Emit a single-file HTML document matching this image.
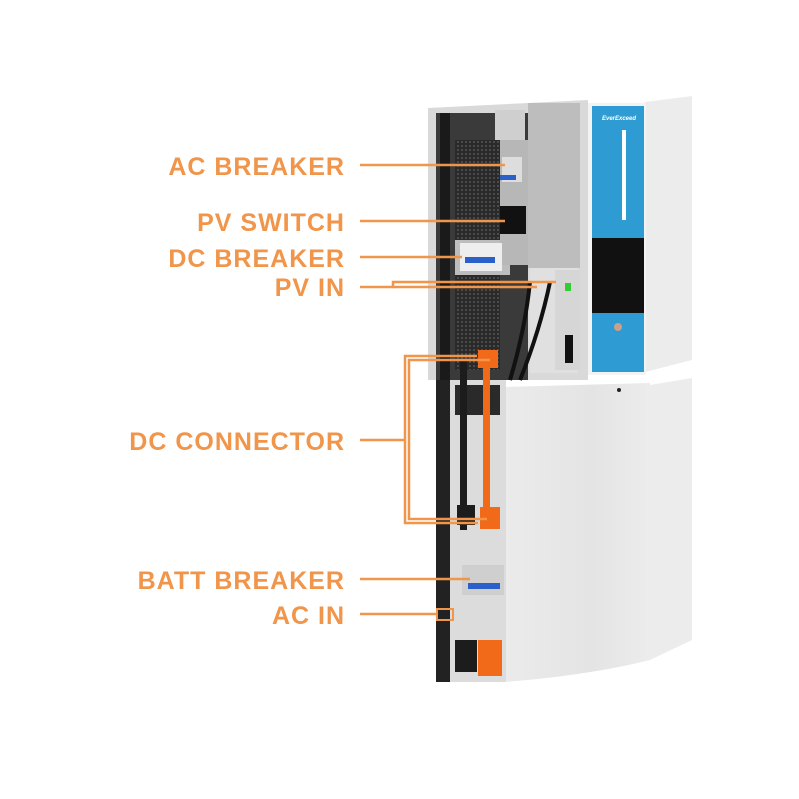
<!DOCTYPE html>
<html><head><style>html,body{margin:0;padding:0;background:#fff}svg{display:block}</style></head>
<body>
<svg width="799" height="799" viewBox="0 0 799 799" xmlns="http://www.w3.org/2000/svg">
<defs>
<linearGradient id="front" x1="0" x2="1"><stop offset="0" stop-color="#ebebeb"/><stop offset="0.6" stop-color="#e4e4e4"/><stop offset="1" stop-color="#ececec"/></linearGradient>
<pattern id="vent" width="4" height="4" patternUnits="userSpaceOnUse"><rect width="4" height="4" fill="#2a2a2a"/><circle cx="2" cy="2" r="1" fill="#555"/></pattern>
</defs>
<polygon points="645,102 692,96 692,360 645,372" fill="#ececec"/>
<rect x="588" y="103" width="58" height="272" fill="#f3f3f3"/>
<rect x="592" y="106" width="52" height="266" fill="#2f9bd3"/>
<rect x="622" y="130" width="4" height="90" fill="#fff"/>
<rect x="592" y="238" width="52" height="75" fill="#111"/>
<circle cx="618" cy="327" r="4" fill="#c9a08a"/>
<text x="602" y="120" font-family="Liberation Sans,sans-serif" font-size="6" font-weight="bold" fill="#fff" font-style="italic">EverExceed</text>
<polygon points="428,108 588,100 588,380 428,380" fill="#d9d9d9"/>
<rect x="436" y="113" width="92" height="267" fill="#3a3a3a"/>
<rect x="440" y="113" width="10" height="267" fill="#1a1a1a"/>
<rect x="455" y="140" width="45" height="100" fill="url(#vent)"/>
<rect x="455" y="275" width="45" height="95" fill="url(#vent)"/>
<rect x="455" y="240" width="55" height="35" fill="#bdbdbd"/>
<rect x="495" y="110" width="30" height="30" fill="#cfcfcf"/>
<rect x="500" y="140" width="30" height="125" fill="#b7b7b7"/>
<rect x="528" y="103" width="52" height="165" fill="#bdbdbd"/>
<rect x="530" y="268" width="48" height="105" fill="#e0e0e0"/>
<rect x="555" y="270" width="25" height="100" fill="#d6d6d6"/>
<rect x="502" y="157" width="20" height="25" fill="#ddd"/>
<rect x="500" y="175" width="16" height="5" fill="#2b5fc9"/>
<rect x="500" y="206" width="26" height="28" fill="#111"/>
<rect x="460" y="243" width="42" height="28" fill="#eee"/>
<rect x="465" y="257" width="30" height="6" fill="#2b5fc9"/>
<rect x="565" y="283" width="6" height="8" fill="#3c3"/>
<rect x="565" y="335" width="8" height="28" fill="#111"/>
<path d="M530,282 Q525,330 510,380 M550,282 Q540,330 520,380" stroke="#111" stroke-width="4" fill="none"/>
<polygon points="650,385 692,378 692,640 650,660" fill="#ececec"/>
<path d="M505,387 L650,383 L650,660 Q590,675 505,682 Z" fill="url(#front)"/>
<rect x="436" y="380" width="70" height="302" fill="#dcdcdc"/>
<rect x="436" y="380" width="14" height="302" fill="#222"/>
<rect x="455" y="385" width="45" height="30" fill="#2a2a2a"/>
<rect x="460" y="360" width="7" height="170" fill="#1c1c1c"/>
<rect x="483" y="355" width="7" height="170" fill="#f06a1a"/>
<rect x="478" y="350" width="20" height="18" fill="#f06a1a"/>
<rect x="457" y="505" width="18" height="20" fill="#1c1c1c"/>
<rect x="480" y="507" width="20" height="22" fill="#f06a1a"/>
<rect x="462" y="565" width="42" height="30" fill="#cfcfcf"/>
<rect x="468" y="583" width="32" height="6" fill="#2b5fc9"/>
<rect x="455" y="640" width="22" height="32" fill="#1c1c1c"/>
<rect x="478" y="640" width="24" height="36" fill="#f06a1a"/>
<circle cx="619" cy="390" r="2" fill="#222"/>
<g stroke="#f0954a" stroke-width="2.5" fill="none">
<line x1="360" y1="165" x2="505" y2="165"/>
<line x1="360" y1="221" x2="505" y2="221"/>
<line x1="360" y1="257" x2="462" y2="257"/>
<polyline points="360,287 393,287 393,282 556,282"/>
<line x1="393" y1="287" x2="537" y2="287"/>
<line x1="360" y1="440" x2="405" y2="440"/>
<polyline points="477,356 405,356 405,523 478,523"/>
<polyline points="490,360 409,360 409,519 487,519"/>
<line x1="360" y1="579" x2="470" y2="579"/>
<line x1="360" y1="614" x2="437" y2="614"/>
<rect x="437" y="609" width="16" height="11" stroke-width="2"/>
</g>
<g font-family="Liberation Sans,sans-serif" font-weight="bold" font-size="25" fill="#f0954a" text-anchor="end" letter-spacing="1">
<text x="345" y="175">AC BREAKER</text>
<text x="345" y="231">PV SWITCH</text>
<text x="345" y="267">DC BREAKER</text>
<text x="345" y="296">PV IN</text>
<text x="345" y="450">DC CONNECTOR</text>
<text x="345" y="589">BATT BREAKER</text>
<text x="345" y="624">AC IN</text>
</g>
</svg>
</body></html>
